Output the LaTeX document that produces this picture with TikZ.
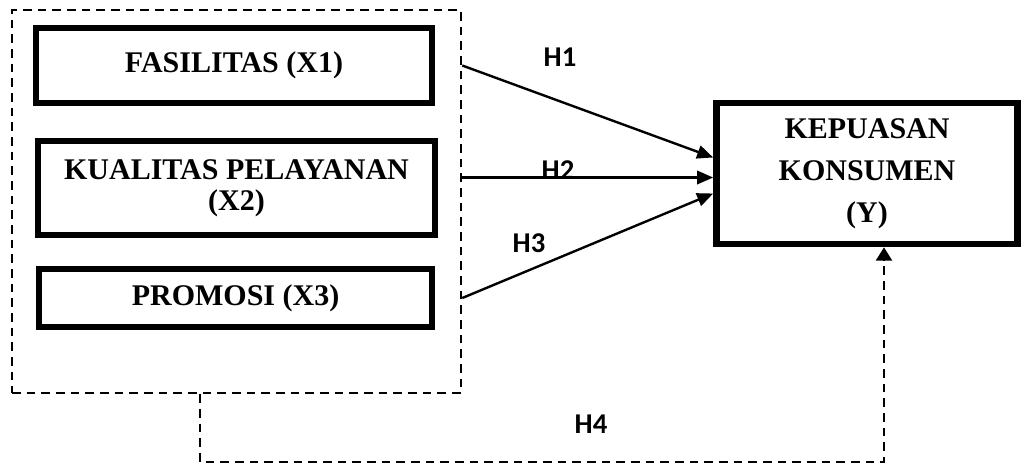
\documentclass[tikz,border=0pt]{standalone}
\usepackage{fontspec}
\setmainfont{Liberation Serif}
\newfontfamily\hfont{Carlito}
\usepackage{tikz}
\usetikzlibrary{arrows.meta}

\begin{document}
\begin{tikzpicture}[
  x=0.75pt, y=-0.75pt,
  every node/.style={align=center},
  varbox/.style={draw, line width=5pt, inner sep=0pt, font=\fontsize{22.5}{26}\selectfont\bfseries},
  grpbox/.style={draw, line width=1.9pt, dash pattern=on 6.5pt off 4.5pt, inner sep=0pt},
  hlabel/.style={font=\fontsize{21.5}{24}\hfont\bfseries},
  arr/.style={-{Triangle[length=12pt,width=10pt]}, line width=1.8pt},
  darr/.style={-{Triangle[length=10pt,width=12pt]}, line width=1.9pt, dash pattern=on 6.5pt off 4.5pt}
]
\useasboundingbox (0,0) rectangle (1023,465);
\node[grpbox, minimum width=336.75pt, minimum height=287.25pt] (grp) at (236.5,201.5) {};
\node[varbox, minimum width=297pt, minimum height=56.25pt] (x1) at (234,65.5) {FASILITAS (X1)};
\node[varbox, minimum width=297.75pt, minimum height=70.5pt, font=\fontsize{22.5}{23.5}\selectfont\bfseries] (x2) at (236.5,188) {KUALITAS PELAYANAN\\(X2)};
\node[varbox, minimum width=294.75pt, minimum height=43.5pt] (x3) at (235.5,298) {PROMOSI (X3)};
\node[varbox, minimum width=225.75pt, minimum height=105.75pt, font=\fontsize{22.5}{31.5}\selectfont\bfseries] (y) at (867,173.5) {KEPUASAN\\KONSUMEN\\(Y)};
% hypotheses
\draw[arr] (grp.east |- x1) -- ([yshift=12pt]y.west);
\draw[arr] ([yshift=-3pt]grp.east |- y.west) -- ([yshift=-3pt]y.west);
\draw[arr] (grp.east |- x3) -- ([yshift=-15pt]y.west);
\coordinate (h4a) at (200,462);
\coordinate (h4b) at (884,462);
\draw[darr] (grp.south -| h4a) -- (h4a) -- (h4b) -- (h4b |- y.south);
\node[hlabel] (h1) at (560,57) {H1};
\node[hlabel] (h2) at (558,170) {H2};
\node[hlabel] (h3) at (529,243) {H3};
\node[hlabel] (h4) at (591,424) {H4};
\end{tikzpicture}
\end{document}
